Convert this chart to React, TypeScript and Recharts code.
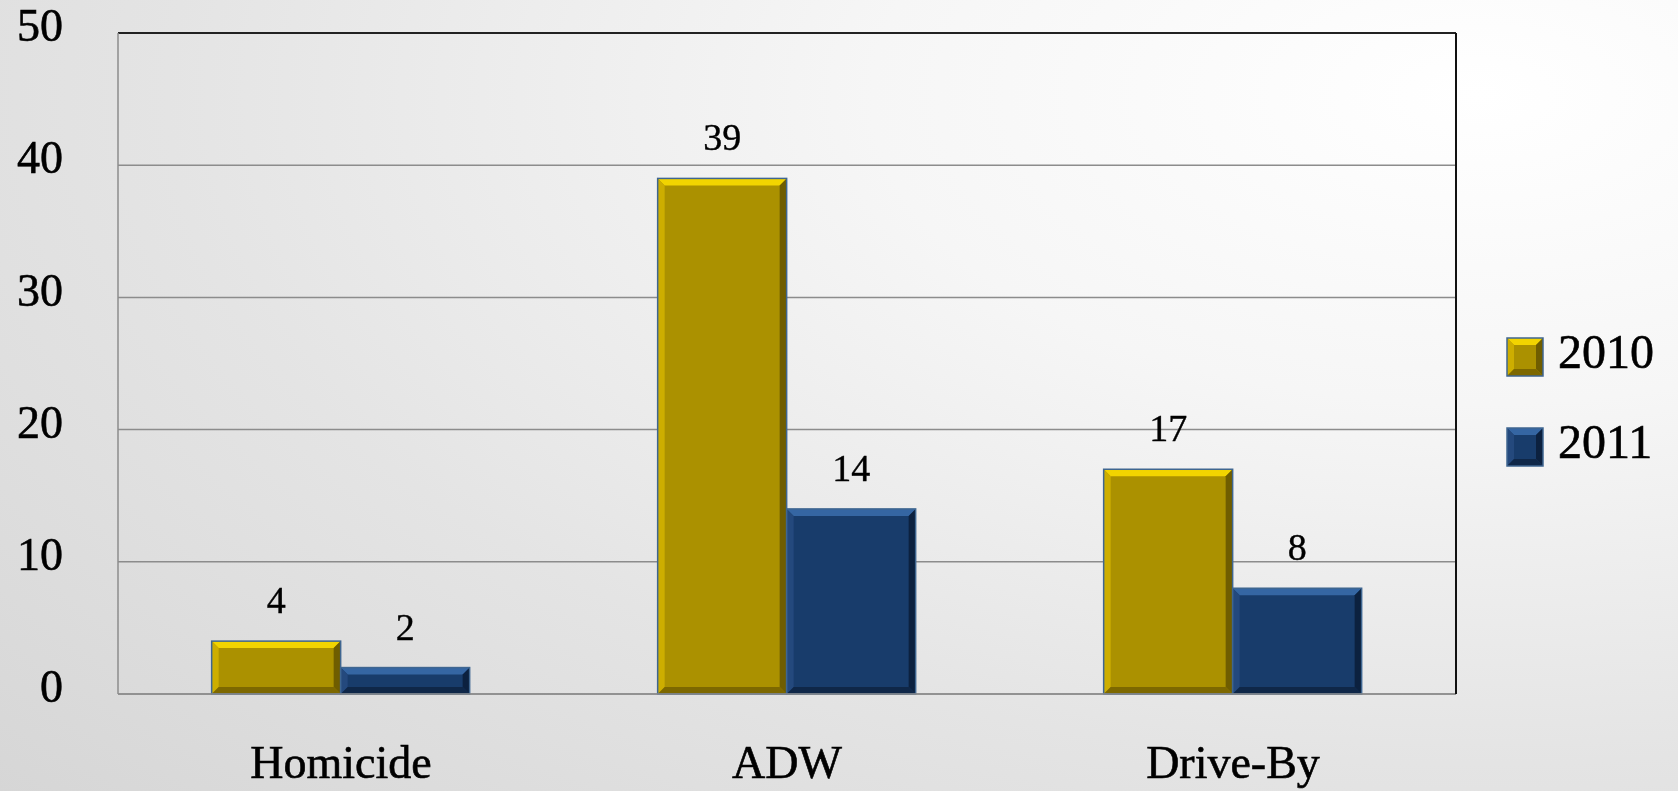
import React from 'react';
import { BarChart, Bar, XAxis, YAxis, CartesianGrid, Legend, LabelList, ReferenceLine } from 'recharts';

const categories = ['Homicide', 'ADW', 'Drive-By'];
const series2010 = [4, 39, 17];
const series2011 = [2, 14, 8];
const yTicks = [0, 10, 20, 30, 40, 50];

const FONT = '"Liberation Serif", "Times New Roman", serif';

const palette: Record<string, { face: string; top: string; left: string; right: string; bottom: string }> = {
  '2010': { face: '#ab9100', top: '#f2d400', left: '#cdae00', right: '#6f5d00', bottom: '#7d6800' },
  '2011': { face: '#183c6b', top: '#3566a3', left: '#24497d', right: '#0c213f', bottom: '#0f2748' },
};

const chartData = categories.map((name, i) => ({
  name,
  y2010: series2010[i],
  y2011: series2011[i],
}));

function bevel(x: number, y: number, w: number, h: number, key: string) {
  const c = palette[key];
  const b = Math.max(0, Math.min(7, w / 2, h / 2));
  const pts = (arr: number[][]) => arr.map((p) => p.join(',')).join(' ');
  return (
    <g>
      <rect x={x} y={y} width={w} height={h} fill={c.face} />
      <polygon points={pts([[x, y], [x + w, y], [x + w - b, y + b], [x + b, y + b]])} fill={c.top} />
      <polygon points={pts([[x, y], [x + b, y + b], [x + b, y + h - b], [x, y + h]])} fill={c.left} />
      <polygon points={pts([[x + w, y], [x + w, y + h], [x + w - b, y + h - b], [x + w - b, y + b]])} fill={c.right} />
      <polygon points={pts([[x, y + h], [x + b, y + h - b], [x + w - b, y + h - b], [x + w, y + h]])} fill={c.bottom} />
      <rect x={x} y={y} width={w} height={h} fill="none" stroke="#3f6690" strokeWidth={1.5} />
    </g>
  );
}

const BevelBar = (key: string) => (props: any) => {
  const { x, y, width, height } = props;
  if (!width || !height) return <g />;
  return bevel(x, y, width, height, key);
};

// slight stroke to give the serif text a heavier look
const textLook = { fontFamily: FONT, fill: '#000', stroke: '#000', strokeWidth: 0.6 };

const YTick = ({ x, y, payload }: any) => (
  <text x={x} y={y - 8} dy="0.35em" textAnchor="end" fontSize={46} {...textLook}>
    {payload.value}
  </text>
);

const XTick = ({ x, y, payload }: any) => (
  <text x={x} y={y + 82} textAnchor="middle" fontSize={46} {...textLook}>
    {payload.value}
  </text>
);

const LegendContent = ({ payload }: any) => (
  <div style={{ fontFamily: FONT, fontSize: 48, color: '#000', WebkitTextStroke: '0.6px #000' }}>
    {(payload || []).map((item: any) => (
      <div key={item.value} style={{ display: 'flex', alignItems: 'center', height: 90 }}>
        <svg width={38} height={40} style={{ marginRight: 14, marginTop: 10 }}>
          {bevel(1, 1, 36, 38, item.value)}
        </svg>
        <span style={{ lineHeight: '48px' }}>{item.value}</span>
      </div>
    ))}
  </div>
);

export default function App() {
  return (
    <div
      style={{
        position: 'fixed',
        left: 0,
        top: 0,
        width: 1678,
        height: 791,
        background: 'radial-gradient(ellipse 120% 130% at 88% 12%, #ffffff 0%, #f6f6f6 30%, #e4e4e4 65%, #d6d6d6 100%)',
      }}
    >
      <BarChart
        width={1678}
        height={791}
        data={chartData}
        margin={{ top: 33, right: 49, left: 0, bottom: 0 }}
        barCategoryGap="21%"
        barGap={0}
      >
        <CartesianGrid vertical={false} stroke="#8c8c8c" strokeWidth={1.5} />
        <XAxis
          dataKey="name"
          height={97}
          tick={<XTick />}
          tickLine={false}
          tickSize={0}
          axisLine={{ stroke: '#8c8c8c', strokeWidth: 1.5 }}
          interval={0}
        />
        <YAxis
          width={118}
          domain={[0, 50]}
          ticks={yTicks}
          tick={<YTick />}
          tickLine={false}
          tickSize={0}
          tickMargin={55}
          axisLine={{ stroke: '#8c8c8c', strokeWidth: 1.5 }}
          interval={0}
        />
        <YAxis
          yAxisId="right"
          orientation="right"
          width={1}
          tick={false}
          tickLine={false}
          axisLine={{ stroke: '#111', strokeWidth: 2 }}
        />
        <ReferenceLine y={50} stroke="#222" strokeWidth={2} />
        <Legend
          layout="vertical"
          verticalAlign="top"
          align="right"
          content={<LegendContent />}
          wrapperStyle={{ position: 'absolute', left: 1506, top: 307, width: 172 }}
        />
        <Bar dataKey="y2010" name="2010" fill="#ab9100" shape={BevelBar('2010')} isAnimationActive={false}>
          <LabelList dataKey="y2010" position="top" offset={28} fontSize={38} {...textLook} strokeWidth={0.4} />
        </Bar>
        <Bar dataKey="y2011" name="2011" fill="#183c6b" shape={BevelBar('2011')} isAnimationActive={false}>
          <LabelList dataKey="y2011" position="top" offset={28} fontSize={38} {...textLook} strokeWidth={0.4} />
        </Bar>
      </BarChart>
    </div>
  );
}
